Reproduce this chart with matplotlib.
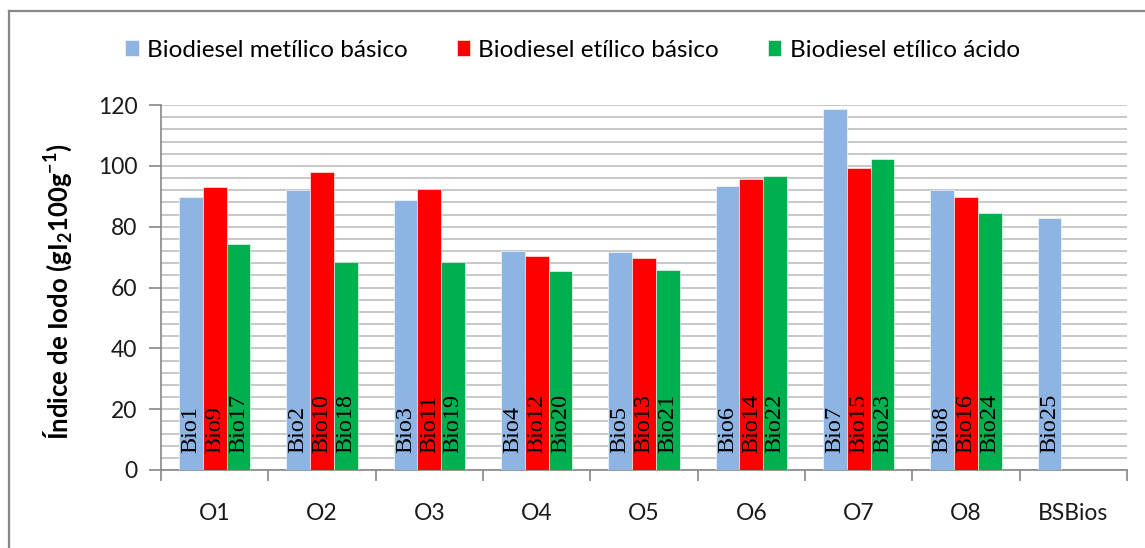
import numpy as np
import matplotlib.pyplot as plt
from matplotlib.lines import Line2D
from matplotlib.ticker import MultipleLocator

plt.rcParams['font.family'] = ['Lato', 'DejaVu Sans']
plt.rcParams['mathtext.fontset'] = 'custom'
plt.rcParams['mathtext.rm'] = 'Lato:bold'
plt.rcParams['mathtext.bf'] = 'Lato:bold'

categorias = ['O1', 'O2', 'O3', 'O4', 'O5', 'O6', 'O7', 'O8', 'BSBios']
series = ['Biodiesel metílico básico', 'Biodiesel etílico básico',
          'Biodiesel etílico ácido']

metilico_basico = [89.6, 92.0, 88.9, 71.9, 71.7, 93.4, 118.6, 91.9, 82.9]
etilico_basico = [92.9, 98.1, 92.3, 70.3, 69.6, 95.6, 99.3, 89.6, np.nan]
etilico_acido = [74.2, 68.3, 68.3, 65.4, 65.7, 96.8, 102.2, 84.6, np.nan]

rotulos_metilico = ['Bio1', 'Bio2', 'Bio3', 'Bio4', 'Bio5', 'Bio6', 'Bio7', 'Bio8', 'Bio25']
rotulos_etilico = ['Bio9', 'Bio10', 'Bio11', 'Bio12', 'Bio13', 'Bio14', 'Bio15', 'Bio16', '']
rotulos_acido = ['Bio17', 'Bio18', 'Bio19', 'Bio20', 'Bio21', 'Bio22', 'Bio23', 'Bio24', '']

cores = ['#8EB4E3', '#FF0000', '#00B050']

fig = plt.figure(figsize=(11.45, 5.48), dpi=100)
ax = fig.add_axes([161 / 1145, 1 - 470 / 548, (1127 - 161) / 1145, (470 - 105) / 548])

x = np.arange(len(categorias))
largura = 2 / 3 / 3

valores = [metilico_basico, etilico_basico, etilico_acido]
rotulos = [rotulos_metilico, rotulos_etilico, rotulos_acido]

for i, (vals, nome, cor, rot) in enumerate(zip(valores, series, cores, rotulos)):
    pos = x + (i - 1) * largura
    ax.bar(pos, vals, width=largura, color=cor, label=nome,
           edgecolor='white', linewidth=0.4, zorder=3)
    for p, v, r in zip(pos, vals, rot):
        if r and not np.isnan(v):
            ax.annotate(r, xy=(p, 0), xytext=(0, 12), textcoords='offset points',
                        rotation=90, ha='center', va='bottom',
                        family='Liberation Serif', fontsize=17.5, zorder=4)

ax.set_xlim(-0.5, len(categorias) - 0.5)
ax.set_ylim(0, 120)
ax.yaxis.set_major_locator(MultipleLocator(20))
ax.yaxis.set_minor_locator(MultipleLocator(4))
ax.grid(axis='y', which='both', color='#C4C4C4', linewidth=1.3, zorder=0)

ax.set_xticks(x)
ax.set_xticklabels(categorias)
ax.set_xticks(np.arange(len(categorias) + 1) - 0.5, minor=True)
ax.tick_params(axis='x', which='major', length=0, pad=24, labelsize=16.5, labelcolor='#1a1a1a')
ax.tick_params(axis='x', which='minor', length=8, width=1.2, color='#868686')
ax.tick_params(axis='y', which='major', length=9, width=1.2, color='#868686',
               pad=8, labelsize=16.5, labelcolor='#1a1a1a')
ax.tick_params(axis='y', which='minor', length=0)

for lado in ['top', 'right']:
    ax.spines[lado].set_visible(False)
for lado in ['left', 'bottom']:
    ax.spines[lado].set_color('#868686')
    ax.spines[lado].set_linewidth(1.2)

ax.set_ylabel(r'Índice de Iodo (gI$_{2}$100g$^{-1}$)', fontsize=18.5, fontweight='bold')
ax.yaxis.set_label_coords(-0.09, 0.488)

fig.legend(loc='center', bbox_to_anchor=(0.5, 1 - 50 / 548), ncol=3, frameon=False,
           fontsize=17.5, handlelength=0.55, handleheight=0.65, handletextpad=0.35,
           columnspacing=2.0)

# moldura da área do gráfico
borda = dict(color='#868686', linewidth=1.6, transform=fig.transFigure)
fig.add_artist(Line2D([9 / 1145, 1.0], [1 - 11 / 548, 1 - 11 / 548], **borda))
fig.add_artist(Line2D([9 / 1145, 9 / 1145], [0.0, 1 - 11 / 548], **borda))

fig.savefig('out.png', dpi=100)
